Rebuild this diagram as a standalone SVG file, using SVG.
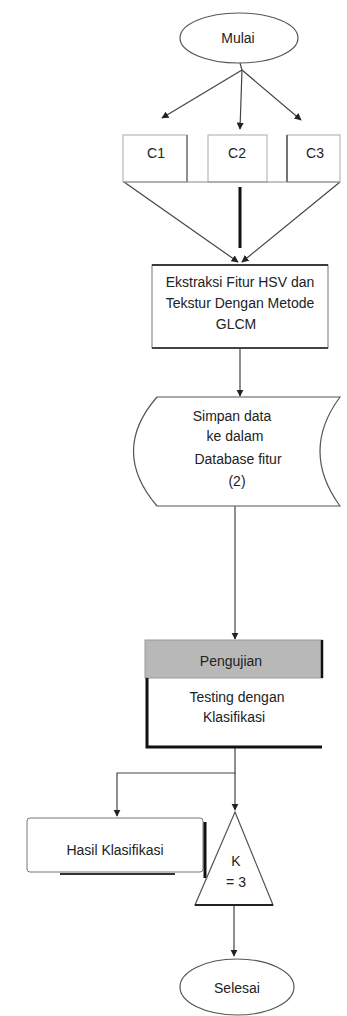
<svg xmlns="http://www.w3.org/2000/svg" width="347" height="1016" viewBox="0 0 347 1016">
<style>
text{font-family:"Liberation Sans",Arial,sans-serif;font-size:14px;fill:#222;text-anchor:middle}
.sh{fill:#fff;stroke:#555;stroke-width:1.2}
.ln{fill:none;stroke:#444;stroke-width:1.2}
.thk{fill:none;stroke:#111;stroke-width:3}
</style>
<defs>
<marker id="ah" viewBox="0 0 10 10" refX="9" refY="5" markerWidth="6" markerHeight="6" orient="auto">
<path d="M0,0 L10,5 L0,10 z" fill="#222"/>
</marker>
</defs>
<rect width="347" height="1016" fill="#fff"/>
<g id="connectors">
<path class="ln" d="M240,63 L242,70"/>
<path class="ln" d="M242,70 L162,118" marker-end="url(#ah)"/>
<path class="ln" d="M242,70 L301,120" marker-end="url(#ah)"/>
<path class="ln" d="M242,70 L240,129" marker-end="url(#ah)" stroke="#999"/>
<path class="ln" d="M124,182 L238,262" marker-end="url(#ah)"/>
<path class="ln" d="M340,182 L242,262" marker-end="url(#ah)"/>
<path class="thk" d="M240,187 L240,248"/>
<path class="ln" d="M240,348 L240,396" marker-end="url(#ah)" stroke="#888"/>
<path class="ln" d="M235,506 L235,639" marker-end="url(#ah)" stroke="#888"/>
<path class="ln" d="M235,748 L235,773 L117,773 L117,816" marker-end="url(#ah)" stroke="#888"/>
<path class="ln" d="M235,773 L235,810" marker-end="url(#ah)"/>
<path class="ln" d="M234,905 L234,956" marker-end="url(#ah)"/>
</g>
<g id="start">
<ellipse class="sh" cx="239" cy="38" rx="59" ry="25"/>
<text x="238" y="43" font-size="15">Mulai</text>
</g>
<g id="c1">
<rect x="123" y="135" width="64" height="47" fill="none" stroke="#aaa"/>
<line x1="187" y1="135" x2="187" y2="182" stroke="#777" stroke-width="1.5"/>
<text x="156" y="158">C1</text>
</g>
<g id="c2">
<rect x="208" y="135" width="59" height="47" fill="none" stroke="#aaa"/>
<text x="237" y="158">C2</text>
</g>
<g id="c3">
<rect x="287" y="135" width="53" height="47" fill="none" stroke="#aaa"/>
<line x1="287" y1="135" x2="287" y2="182" stroke="#555" stroke-width="1.5"/>
<text x="315" y="158">C3</text>
</g>
<line x1="123" y1="182" x2="340" y2="182" stroke="#888"/>
<g id="extract">
<rect x="152" y="265" width="176" height="83" fill="#fff" stroke="#777"/>
<line x1="152" y1="265" x2="328" y2="265" stroke="#111" stroke-width="1.5"/>
<line x1="152" y1="348" x2="328" y2="348" stroke="#444" stroke-width="2"/>
<text x="240" y="287">Ekstraksi Fitur HSV dan</text>
<text x="240" y="308">Tekstur Dengan Metode</text>
<text x="236" y="329">GLCM</text>
</g>
<g id="store">
<path class="sh" d="M157,397 L340,397 Q300,451 340,506 L157,506 Q110,451 157,397 Z"/>
<text x="232" y="421">Simpan data</text>
<text x="235" y="441">ke dalam</text>
<text x="238" y="464">Database fitur</text>
<text x="237" y="486" font-size="11">(2)</text>
</g>
<g id="classify">
<rect x="145" y="640" width="177" height="38" fill="#b8b8b8" stroke="#999"/>
<line x1="322" y1="640" x2="322" y2="678" stroke="#111" stroke-width="2.5"/>
<path d="M147,678 L147,747 L322,747" fill="none" stroke="#111" stroke-width="3"/>
<text x="231" y="666">Pengujian</text>
<text x="237" y="702">Testing dengan</text>
<text x="234" y="722">Klasifikasi</text>
</g>
<g id="result">
<rect x="27" y="818" width="176" height="54" rx="3" fill="#fff" stroke="#777"/>
<line x1="205" y1="822" x2="205" y2="878" stroke="#111" stroke-width="3"/>
<line x1="60" y1="874" x2="175" y2="874" stroke="#333" stroke-width="2"/>
<text x="115" y="855" font-size="15">Hasil Klasifikasi</text>
</g>
<g id="merge">
<path class="sh" d="M235,812 L273,905 L195,905 Z"/>
<line x1="195" y1="905" x2="273" y2="905" stroke="#222" stroke-width="2"/>
<text x="236" y="866" font-size="9">K</text>
<text x="236" y="887" font-size="9">= 3</text>
</g>
<g id="end">
<ellipse class="sh" cx="237" cy="987" rx="57" ry="28"/>
<text x="237" y="993" font-size="14">Selesai</text>
</g>
</svg>
